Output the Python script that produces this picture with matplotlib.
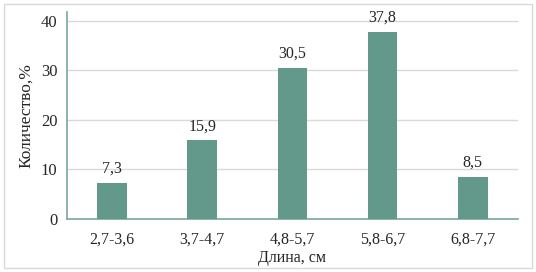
import matplotlib.pyplot as plt
from matplotlib.patches import Rectangle

categories = ["2,7-3,6", "3,7-4,7", "4,8-5,7", "5,8-6,7", "6,8-7,7"]
values = [7.3, 15.9, 30.5, 37.8, 8.5]
labels = ["7,3", "15,9", "30,5", "37,8", "8,5"]

plt.rcParams["font.family"] = ["Liberation Serif", "DejaVu Serif"]
plt.rcParams["font.size"] = 11.5

fig = plt.figure(figsize=(5.36, 2.72), dpi=100)
ax = fig.add_axes([0.125, 0.195, 0.841, 0.761])

bar_color = "#62998a"
x = list(range(len(categories)))
bars = ax.bar(x, values, width=0.33, color=bar_color, zorder=3)
for b, lab in zip(bars, labels):
    ax.text(b.get_x() + b.get_width() / 2, b.get_height() + 1.2, lab,
            ha="center", va="bottom", fontsize=11.5, color="#262626")

ax.set_xlim(-0.5, len(categories) - 0.5)
ax.set_ylim(0, 41.8)
ax.set_yticks([0, 10, 20, 30, 40])
ax.set_xticks(x)
ax.set_xticklabels(categories)
ax.tick_params(axis="x", length=0, pad=9, colors="#262626", labelsize=11.5)
ax.tick_params(axis="y", length=0, pad=7, colors="#262626", labelsize=12)
ax.yaxis.grid(True, color="#d9d9d9", linewidth=1, zorder=0)

for s in ["top", "right"]:
    ax.spines[s].set_visible(False)
for s in ["left", "bottom"]:
    ax.spines[s].set_color("#7aa898")
    ax.spines[s].set_linewidth(1.2)

ax.set_ylabel("Количество,%", fontsize=12.5, color="#262626", labelpad=5)
ax.set_xlabel("Длина, см", fontsize=11.5, color="#262626", labelpad=2)

fig.patches.append(Rectangle((4 / 536, 4 / 272), 528 / 536, 264 / 272,
                             transform=fig.transFigure, fill=False,
                             edgecolor="#d9d9d9", linewidth=1))

fig.savefig("out.png", dpi=100)
